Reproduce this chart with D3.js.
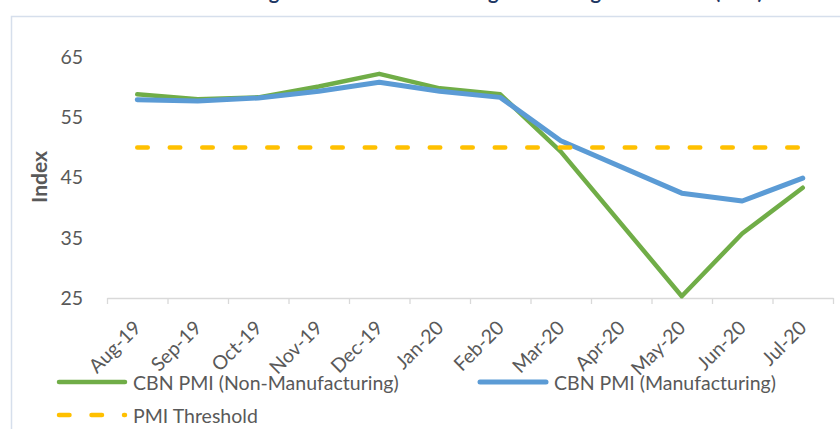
<!DOCTYPE html>
<html>
<head>
<meta charset="utf-8">
<script src="https://cdn.jsdelivr.net/npm/d3@7"></script>
<style>
  body { margin: 0; background: #fff; }
  text { font-family: Lato, "Open Sans", sans-serif; }
</style>
</head>
<body>
<div id="chart"></div>
<script>
// data (Apr-20 has no survey, line is joined across it)
var months = ["Aug-19", "Sep-19", "Oct-19", "Nov-19", "Dec-19", "Jan-20",
    "Feb-20", "Mar-20", "Apr-20", "May-20", "Jun-20", "Jul-20"];
var nonManufacturing = [58.8, 58.0, 58.3, 60.1, 62.2, 59.8, 58.8, 49.3, null, 25.3, 35.7, 43.3];
var manufacturing = [57.9, 57.7, 58.2, 59.3, 60.8, 59.3, 58.3, 51.1, null, 42.4, 41.1, 44.9];
var threshold = [50, 50, 50, 50, 50, 50, 50, 50, 50, 50, 50, 50];
var yTicks = [25, 35, 45, 55, 65];
var seriesNames = ["CBN PMI (Non-Manufacturing)", "CBN PMI (Manufacturing)", "PMI Threshold"];

var svgWidth = 840;
var svgHeight = 429;

var margin = {
    top: 57,
    bottom: 131,
    right: 7,
    left: 107
};

var width = svgWidth - margin.left - margin.right;
var height = svgHeight - margin.top - margin.bottom;

var textColor = "#595959";

var svg = d3.select("#chart")
    .append("svg")
    .attr("width", svgWidth)
    .attr("height", svgHeight);

// chart frame, only left and top edges are in view
svg.append("rect")
    .attr("x", 11.5)
    .attr("y", 16.5)
    .attr("width", 900)
    .attr("height", 500)
    .attr("fill", "none")
    .attr("stroke", "#D6DFEC")
    .attr("stroke-width", 1.5);

// title is cut off by the top of the picture (as in the original)
svg.append("text")
    .attr("x", 148)
    .attr("y", -1)
    .style("font-size", "20px")
    .style("font-weight", "bold")
    .style("fill", "#1F3864")
    .text("Manufacturing and Non-Manufacturing Purchasing Index Trend (PMI)");

var chartGroup = svg.append("g")
    .attr("transform", `translate(${margin.left}, ${margin.top})`);

// scales
var xBandScale = d3.scaleBand()
    .domain(months)
    .range([0, width]);

var xTickScale = d3.scaleLinear()
    .domain([0, months.length])
    .range([0, width]);

var yLinearScale = d3.scaleLinear()
    .domain([25, 65])
    .range([height, 0]);

function xCenter(m) {
    return xBandScale(m) + xBandScale.bandwidth() / 2;
}

// x axis line with ticks between categories
var tickAxis = chartGroup.append("g")
    .attr("transform", `translate(0, ${height})`)
    .call(d3.axisBottom(xTickScale)
        .tickValues(d3.range(months.length + 1))
        .tickSize(6)
        .tickSizeOuter(0)
        .tickFormat(""));
tickAxis.selectAll("path, line")
    .attr("stroke", "#D9D9D9")
    .attr("stroke-width", 1.3);

// rotated month labels
var labelAxis = chartGroup.append("g")
    .attr("transform", `translate(0, ${height})`)
    .call(d3.axisBottom(xBandScale).tickSize(0));
labelAxis.select(".domain").remove();
labelAxis.selectAll("text")
    .attr("y", 0)
    .attr("dy", 0)
    .attr("text-anchor", "end")
    .attr("transform", "translate(5, 31) rotate(-45)")
    .style("font-size", "19.5px")
    .style("fill", textColor);

// y axis, labels only
var yAxis = chartGroup.append("g")
    .call(d3.axisLeft(yLinearScale)
        .tickValues(yTicks)
        .tickSize(0)
        .tickPadding(24));
yAxis.select(".domain").remove();
yAxis.selectAll("text")
    .style("font-size", "19.5px")
    .style("fill", textColor);

svg.append("text")
    .attr("transform", "translate(38, 177) rotate(-90)")
    .attr("text-anchor", "middle")
    .attr("dominant-baseline", "central")
    .style("font-size", "21px")
    .style("font-weight", "bold")
    .style("fill", textColor)
    .text("Index");

// lines
var line = d3.line()
    .x(d => xCenter(d.month))
    .y(d => yLinearScale(d.value));

function toPoints(values) {
    return months.map((m, i) => ({ month: m, value: values[i] }))
        .filter(d => d.value !== null);
}

var series = [
    { name: seriesNames[0], values: nonManufacturing, color: "#70AD47", width: 4.5, dash: null },
    { name: seriesNames[1], values: manufacturing, color: "#5B9BD5", width: 5, dash: null },
    { name: seriesNames[2], values: threshold, color: "#FFC000", width: 4.5, dash: "10.5 22" }
];

series.forEach(function(s) {
    chartGroup.append("path")
        .datum(toPoints(s.values))
        .attr("d", line)
        .attr("fill", "none")
        .attr("stroke", s.color)
        .attr("stroke-width", s.width)
        .attr("stroke-linecap", "round")
        .attr("stroke-linejoin", "round")
        .attr("stroke-dasharray", s.dash);
});

// legend
var legendPos = [[57, 382], [478, 382], [57, 415]];

series.forEach(function(s, i) {
    var lg = svg.append("g")
        .attr("transform", `translate(${legendPos[i][0]}, ${legendPos[i][1]})`);
    lg.append("line")
        .attr("x1", 2)
        .attr("x2", 68)
        .attr("stroke", s.color)
        .attr("stroke-width", s.width)
        .attr("stroke-linecap", "round")
        .attr("stroke-dasharray", s.dash);
    lg.append("text")
        .attr("x", 76)
        .attr("dominant-baseline", "central")
        .style("font-size", "19.5px")
        .style("fill", textColor)
        .text(s.name);
});
</script>
</body>
</html>
